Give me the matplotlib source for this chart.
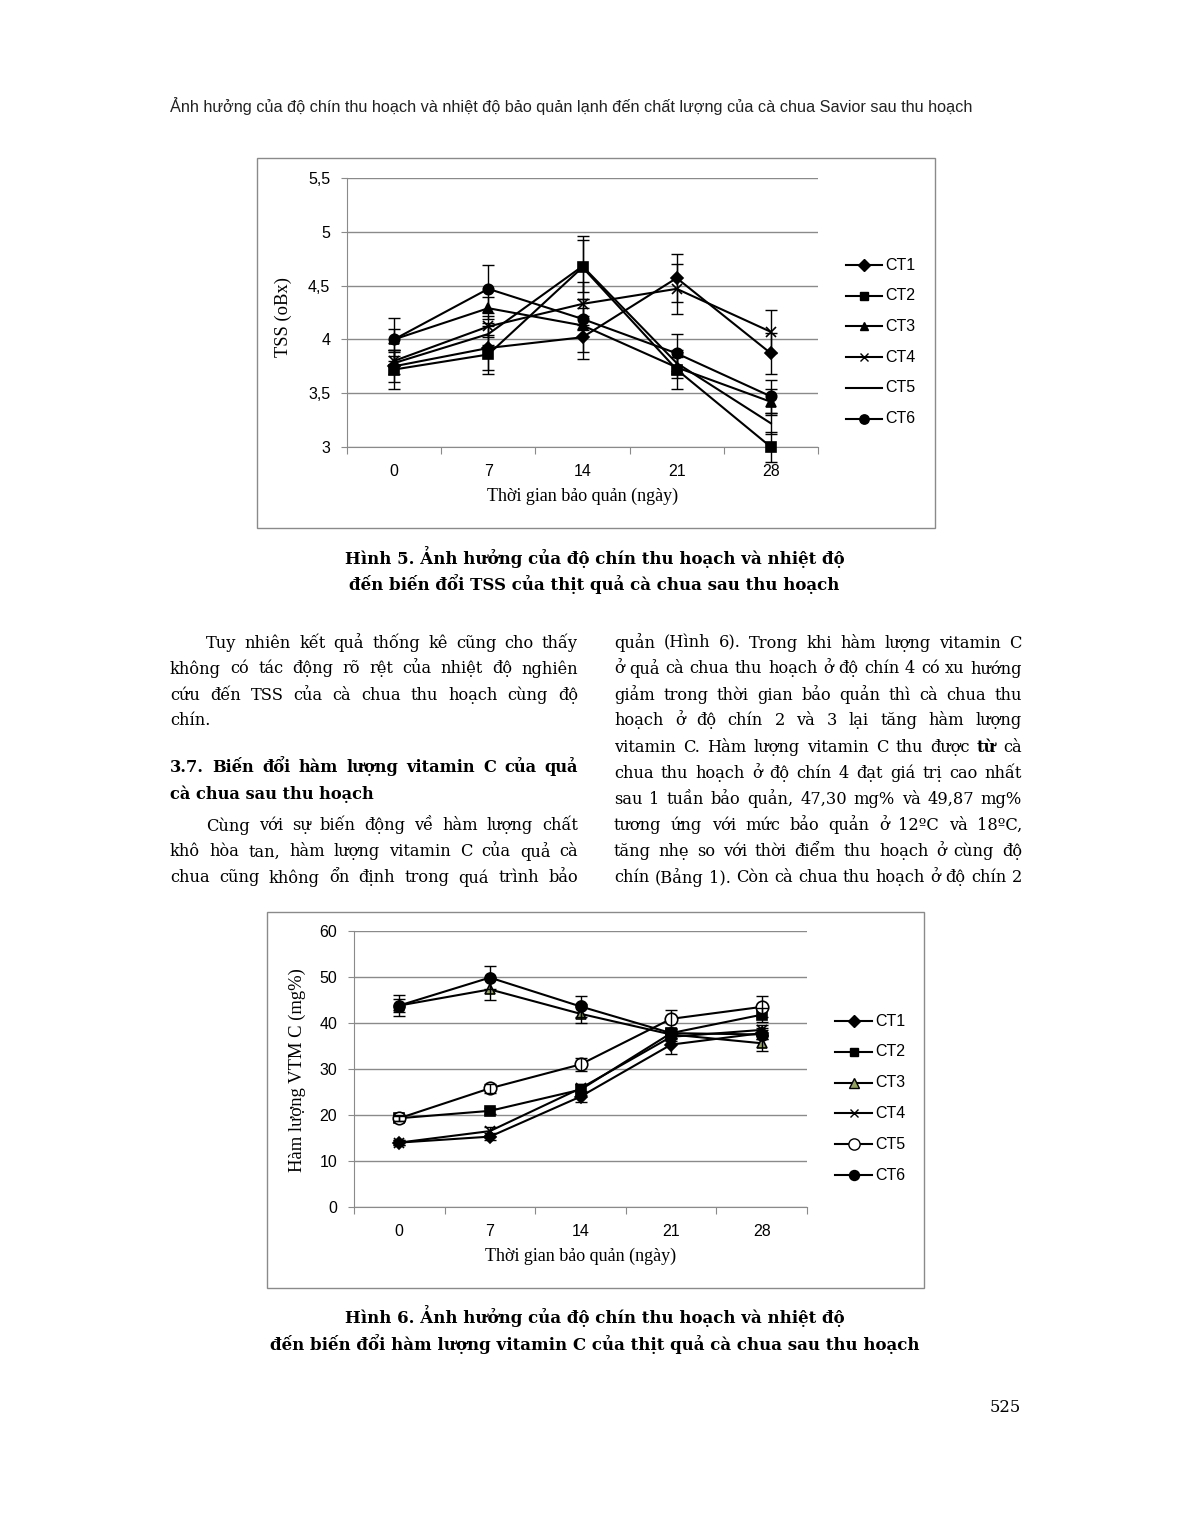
import matplotlib

matplotlib.use('Agg')
import matplotlib.pyplot as plt
from matplotlib.lines import Line2D
from matplotlib.patches import Rectangle

W, H = 1189, 1539

days = ['0', '7', '14', '21', '28']
names = ['CT1', 'CT2', 'CT3', 'CT4', 'CT5', 'CT6']

# Hinh 5 - TSS (oBx)
tss_ct1 = [3.75, 3.92, 4.02, 4.57, 3.87]
tss_ct2 = [3.72, 3.86, 4.67, 3.72, 3.00]
tss_ct3 = [4.00, 4.29, 4.13, 3.74, 3.42]
tss_ct4 = [3.80, 4.12, 4.33, 4.47, 4.07]
tss_ct5 = [3.78, 4.05, 4.68, 3.78, 3.22]
tss_ct6 = [4.00, 4.47, 4.19, 3.87, 3.47]
tss_err1 = [0.15, 0.20, 0.20, 0.22, 0.19]
tss_err2 = [0.18, 0.18, 0.29, 0.18, 0.14]
tss_err3 = [0.10, 0.10, 0.25, 0.10, 0.12]
tss_err4 = [0.05, 0.10, 0.20, 0.23, 0.20]
tss_err5 = [0.10, 0.10, 0.24, 0.10, 0.10]
tss_err6 = [0.20, 0.22, 0.10, 0.18, 0.15]

# Hinh 6 - vitamin C (mg%)
vtm_ct1 = [14.0, 15.3, 24.0, 35.3, 37.8]
vtm_ct2 = [19.3, 20.9, 25.5, 37.8, 41.8]
vtm_ct3 = [43.8, 47.3, 42.0, 37.5, 35.6]
vtm_ct4 = [14.0, 16.5, 25.8, 37.0, 38.5]
vtm_ct5 = [19.3, 25.8, 31.0, 40.9, 43.5]
vtm_ct6 = [43.8, 49.87, 43.6, 37.8, 37.5]
vtm_err1 = [0.5, 0.8, 1.2, 2.0, 1.2]
vtm_err2 = [0.5, 0.6, 1.2, 1.0, 1.5]
vtm_err3 = [1.5, 2.3, 2.1, 1.0, 1.6]
vtm_err4 = [0.5, 1.0, 1.0, 1.0, 1.0]
vtm_err5 = [0.6, 1.0, 1.5, 1.9, 2.3]
vtm_err6 = [2.3, 2.5, 2.2, 1.0, 1.0]

header = 'Ảnh hưởng của độ chín thu hoạch và nhiệt độ bảo quản lạnh đến chất lượng của cà chua Savior sau thu hoạch'
left_col = [
    'Tuy nhiên kết quả thống kê cũng cho thấy',
    'không có tác động rõ rệt của nhiệt độ nghiên',
    'cứu đến TSS của cà chua thu hoạch cùng độ',
    'chín.',
    '3.7. Biến đổi hàm lượng vitamin C của quả',
    'cà chua sau thu hoạch',
    'Cùng với sự biến động về hàm lượng chất',
    'khô hòa tan, hàm lượng vitamin C của quả cà',
    'chua cũng không ổn định trong quá trình bảo',
]
right_col = [
    'quản (Hình 6). Trong khi hàm lượng vitamin C',
    'ở quả cà chua thu hoạch ở độ chín 4 có xu hướng',
    'giảm trong thời gian bảo quản thì cà chua thu',
    'hoạch ở độ chín 2 và 3 lại tăng hàm lượng',
    'vitamin C. Hàm lượng vitamin C thu được *từ cà',
    'chua thu hoạch ở độ chín 4 đạt giá trị cao nhất',
    'sau 1 tuần bảo quản, 47,30 mg% và 49,87 mg%',
    'tương ứng với mức bảo quản ở 12ºC và 18ºC,',
    'tăng nhẹ so với thời điểm thu hoạch ở cùng độ',
    'chín (Bảng 1). Còn cà chua thu hoạch ở độ chín 2',
]

fig = plt.figure(figsize=(W / 100, H / 100), dpi=100)
fig.patch.set_facecolor('white')
r = fig.canvas.get_renderer()


def px(x, y):
    return x / W, 1 - y / H


def fit(s, x0, x1, y, **kw):
    t = fig.text(*px(x0, y), s, fontsize=10, va='center', ha='left', **kw)
    w = t.get_window_extent(r).width
    t.set_fontsize(10 * (x1 - x0) / w)
    return t


def fitv(s, x, y0, y1, **kw):
    t = fig.text(*px(x, (y0 + y1) / 2), s, fontsize=10, rotation=90,
                 va='center', ha='center', **kw)
    h = t.get_window_extent(r).height
    t.set_fontsize(10 * (y1 - y0) / h)
    return t


SERIF = 'DejaVu Serif'


def justify(line, x0, x1, y, size, weight='normal'):
    words = line.split()
    ts = []
    for w in words:
        wt = weight
        if w.startswith('*'):
            w = w[1:]
            wt = 'bold'
        ts.append(fig.text(0, 0, w, fontsize=size, family=SERIF, fontweight=wt, va='center'))
    ws = [t.get_window_extent(r).width for t in ts]
    gap = (x1 - x0 - sum(ws)) / (len(ws) - 1)
    x = x0
    for t, w in zip(ts, ws):
        t.set_position(px(x, y))
        x += w + gap


# font size for body text: tightest line sets it
widths = []
for s, x0, x1 in [(left_col[0], 206, 578), (left_col[1], 170, 578)] + [(s, 614, 1022) for s in right_col]:
    t = fig.text(0, 0, s.replace('*', ''), fontsize=10, family=SERIF)
    widths.append((x1 - x0) / t.get_window_extent(r).width)
    t.remove()
body = 10 * min(widths)

fit(header, 170, 978, 106, family='Liberation Sans', color='#222222')

# left column
justify(left_col[0], 206, 578, 643, body)
justify(left_col[1], 170, 578, 669, body)
justify(left_col[2], 170, 578, 695, body)
fig.text(*px(170, 721), left_col[3], fontsize=body, family=SERIF, va='center')
justify(left_col[4], 170, 578, 767, body, 'bold')
fig.text(*px(170, 794), left_col[5], fontsize=body, family=SERIF, fontweight='bold', va='center')
justify(left_col[6], 206, 578, 826, body)
justify(left_col[7], 170, 578, 852, body)
justify(left_col[8], 170, 578, 878, body)

# right column
ys = [643, 669, 695, 721, 747, 773, 799, 825, 851, 878]
for s, y in zip(right_col, ys):
    justify(s, 614, 1022, y, body)

# captions
fit('Hình 5. Ảnh hưởng của độ chín thu hoạch và nhiệt độ', 345, 848, 557, family=SERIF, fontweight='bold')
fit('đến biến đổi TSS của thịt quả cà chua sau thu hoạch', 349, 842, 584, family=SERIF, fontweight='bold')
fit('Hình 6. Ảnh hưởng của độ chín thu hoạch và nhiệt độ', 345, 848, 1316, family=SERIF, fontweight='bold')
fit('đến biến đổi hàm lượng vitamin C của thịt quả cà chua sau thu hoạch', 270, 921, 1344,
    family=SERIF, fontweight='bold')
fit('525', 990, 1021, 1408, family=SERIF)

GRID = '#8a8a8a'


def chart(box, axbox, values, errs, ylim, yticks, ylabels, styles, legend, ylab, xlab_x, ylab_x):
    bx0, by0, bx1, by1 = box
    fig.add_artist(Rectangle(px(bx0, by1), (bx1 - bx0) / W, (by1 - by0) / H,
                             transform=fig.transFigure, fill=False, edgecolor=GRID, lw=1))
    ax0, ay0, ax1, ay1 = axbox
    ax = fig.add_axes([ax0 / W, 1 - ay1 / H, (ax1 - ax0) / W, (ay1 - ay0) / H])
    x = list(range(len(days)))
    for v, e, (mk, ms, fc) in zip(values, errs, styles):
        ax.plot(x, v, color='black', lw=1.5, marker=mk, markersize=ms,
                markerfacecolor=fc, markeredgecolor='black', markeredgewidth=1.2,
                clip_on=False, zorder=3)
        ax.errorbar(x, v, yerr=e, fmt='none', ecolor='black', elinewidth=1,
                    capsize=4, capthick=1, clip_on=False, zorder=4)
    ax.set_xlim(-0.5, 4.5)
    ax.set_ylim(*ylim)
    ax.set_yticks(yticks)
    ax.set_yticklabels(ylabels)
    ax.set_xticks([-0.5, 0.5, 1.5, 2.5, 3.5, 4.5])
    ax.set_xticklabels([])
    ax.set_xticks(x, minor=True)
    ax.set_xticklabels(days, minor=True)
    ax.tick_params(axis='x', which='major', length=5, color=GRID, direction='out')
    ax.tick_params(axis='x', which='minor', length=0, pad=12, labelsize=11.5)
    ax.tick_params(axis='y', length=4, color=GRID, pad=8, labelsize=11.5)
    for lab in ax.get_xticklabels(minor=True) + ax.get_yticklabels():
        lab.set_family('Liberation Sans')
    ax.grid(axis='y', color=GRID, lw=1)
    ax.set_axisbelow(True)
    for s in ['top', 'right']:
        ax.spines[s].set_visible(False)
    for s in ['left', 'bottom']:
        ax.spines[s].set_color(GRID)
    ax.patch.set_alpha(0)

    lx0, lx1, ly0, step = legend
    for i, (name, (mk, ms, fc)) in enumerate(zip(names, styles)):
        y = ly0 + i * step
        fig.add_artist(Line2D([lx0 / W, lx1 / W], [1 - y / H] * 2, transform=fig.transFigure,
                              color='black', lw=1.5))
        if mk != 'None':
            fig.add_artist(Line2D([(lx0 + lx1) / 2 / W], [1 - y / H], transform=fig.transFigure,
                                  marker=mk, markersize=ms * 0.9, markerfacecolor=fc,
                                  markeredgecolor='black', markeredgewidth=1, lw=0))
        fig.text(*px(lx1 + 3, y), name, fontsize=11.5, family='Liberation Sans', va='center')

    fit('Thời gian bảo quản (ngày)', xlab_x[0], xlab_x[1], xlab_x[2], family='Liberation Serif')
    fitv(ylab, ylab_x[0], ylab_x[1], ylab_x[2], family='Liberation Serif')
    return ax


styles1 = [('D', 6.5, 'black'), ('s', 7, 'black'), ('^', 7, 'black'),
           ('x', 7, 'black'), ('None', 0, 'black'), ('o', 7.5, 'black')]
chart((257, 158, 935, 528), (347, 178, 818, 447),
      [tss_ct1, tss_ct2, tss_ct3, tss_ct4, tss_ct5, tss_ct6],
      [tss_err1, tss_err2, tss_err3, tss_err4, tss_err5, tss_err6],
      (3, 5.5), [3, 3.5, 4, 4.5, 5, 5.5], ['3', '3,5', '4', '4,5', '5', '5,5'],
      styles1, (846, 882, 265, 30.7), 'TSS (oBx)', (487, 679, 496), (283, 277, 357))

styles2 = [('D', 6.5, 'black'), ('s', 7, 'black'), ('^', 7.5, '#93a35e'),
           ('x', 7, 'black'), ('o', 9, 'white'), ('o', 8, 'black')]
chart((267, 912, 924, 1288), (354, 931, 807, 1207),
      [vtm_ct1, vtm_ct2, vtm_ct3, vtm_ct4, vtm_ct5, vtm_ct6],
      [vtm_err1, vtm_err2, vtm_err3, vtm_err4, vtm_err5, vtm_err6],
      (0, 60), [0, 10, 20, 30, 40, 50, 60], ['0', '10', '20', '30', '40', '50', '60'],
      styles2, (835, 872, 1021, 30.8), 'Hàm lượng VTM C (mg%)', (485, 677, 1256), (297, 968, 1172))

plt.savefig('out.png', dpi=100)
plt.close()
